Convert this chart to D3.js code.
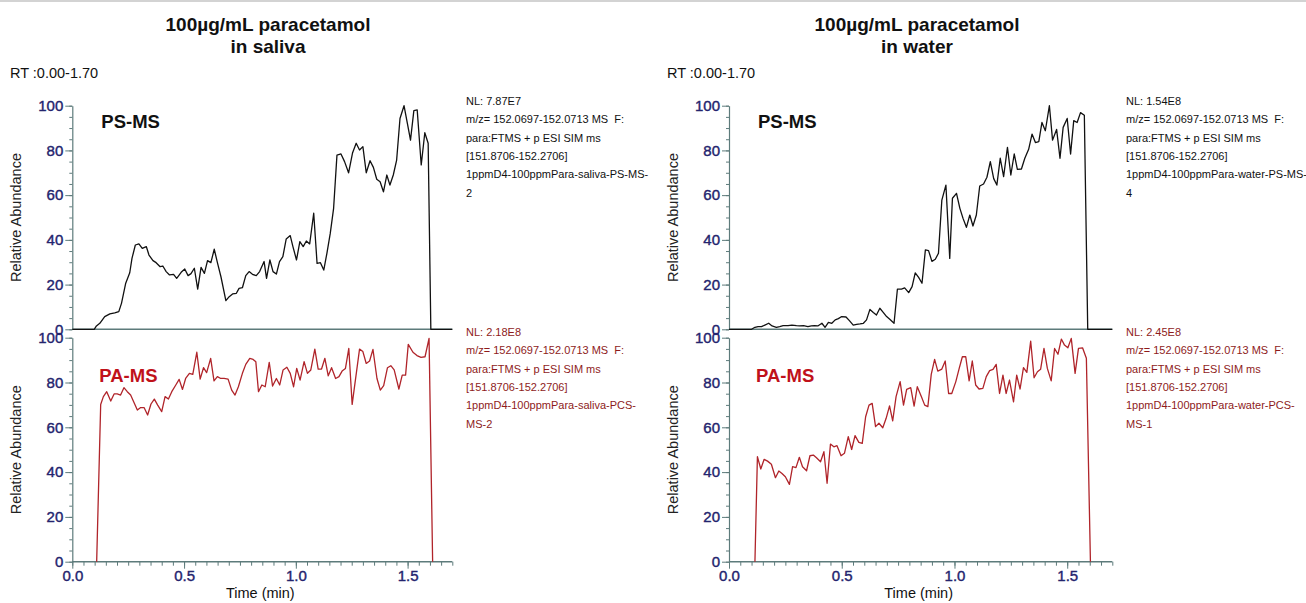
<!DOCTYPE html>
<html><head><meta charset="utf-8">
<script src="https://cdn.jsdelivr.net/npm/d3@7"></script>
<style>
html,body{margin:0;padding:0;background:#fff;}
svg{display:block;font-family:"Liberation Sans",Arial,sans-serif;}
</style></head>
<body>
<svg id="c" width="1306" height="603"></svg>
<script>
// ---------- DATA ----------
const titles = [["100µg/mL paracetamol", "in saliva"], ["100µg/mL paracetamol", "in water"]];
const rtLabel = "RT :0.00-1.70";
const xDomain = [0, 1.70];
const xMajorTicks = [0, 0.5, 1.0, 1.5];
const yMajorTicks = [0, 20, 40, 60, 80, 100];
const methodLabels = ["PS-MS", "PA-MS"];

// [time (min), relative abundance]
const salivaPS = [[0,0],[0.098,0],[0.108,1.5],[0.123,2.7],[0.145,5.7],[0.168,6.9],[0.190,7.3],[0.208,7.9],[0.220,11.6],[0.239,20.6],[0.257,25.3],[0.267,31.7],[0.282,37.7],[0.298,38.2],[0.313,36.2],[0.331,37],[0.343,33.2],[0.361,30.7],[0.375,29.8],[0.393,28],[0.405,28.3],[0.420,25.8],[0.435,24.3],[0.453,24.6],[0.467,22.8],[0.487,25.5],[0.503,27],[0.518,24],[0.531,24.9],[0.546,27.3],[0.561,18],[0.576,27.7],[0.591,25],[0.605,30.7],[0.620,29.8],[0.635,35.8],[0.650,29.5],[0.665,23.5],[0.687,12.8],[0.702,14.6],[0.717,15.8],[0.734,16.1],[0.746,18.3],[0.761,18.6],[0.776,24],[0.791,25.8],[0.806,24.6],[0.823,24],[0.838,25.8],[0.858,30.3],[0.869,22.8],[0.884,31],[0.898,25.8],[0.913,24.7],[0.927,30.3],[0.942,32.5],[0.957,40.4],[0.975,41.9],[0.987,37],[1.003,31],[1.018,39.2],[1.033,37],[1.047,39.5],[1.062,38.2],[1.080,51.9],[1.095,29.5],[1.110,29.8],[1.125,26.5],[1.139,34],[1.154,42.9],[1.169,54.1],[1.184,77.9],[1.202,78.4],[1.218,75],[1.236,70],[1.254,79],[1.270,83.2],[1.285,80.2],[1.300,81.7],[1.315,70],[1.332,75.4],[1.347,72.4],[1.362,67.1],[1.377,66],[1.392,61.5],[1.407,69],[1.421,64.5],[1.436,69],[1.451,75.7],[1.466,94.3],[1.484,100],[1.499,92.1],[1.513,84.6],[1.528,97.8],[1.543,98.1],[1.561,73.5],[1.577,87.9],[1.592,83.2],[1.604,0],[1.70,0]];

const salivaPA = [[0.109,0],[0.127,70.2],[0.139,73.7],[0.154,75.9],[0.172,71.7],[0.187,74.9],[0.201,74.9],[0.216,74.4],[0.231,77.7],[0.246,75.9],[0.261,74.4],[0.276,71.1],[0.291,67.7],[0.306,68.8],[0.321,68.8],[0.337,65.5],[0.352,70.4],[0.367,72.6],[0.382,69.9],[0.400,67],[0.415,73.7],[0.430,72.6],[0.445,75.9],[0.463,78.9],[0.478,81.4],[0.493,76.9],[0.507,81.8],[0.524,84.1],[0.539,83.6],[0.557,93.5],[0.572,81.5],[0.587,86.6],[0.601,84.4],[0.619,90.8],[0.634,80.7],[0.649,82.6],[0.664,81.8],[0.679,81.8],[0.697,81.5],[0.713,76.6],[0.728,74.4],[0.743,78.1],[0.761,84.1],[0.776,88.1],[0.794,90.8],[0.809,90.3],[0.821,89.3],[0.833,75.9],[0.848,78.9],[0.863,78.1],[0.881,89],[0.896,78.4],[0.913,81.8],[0.928,78.9],[0.943,85.6],[0.960,86.8],[0.975,84.1],[0.990,78.1],[1.004,86.3],[1.019,81.1],[1.037,89.3],[1.052,84.1],[1.067,85.6],[1.085,94.9],[1.100,86],[1.115,86],[1.130,90.8],[1.145,83],[1.160,86.6],[1.178,81.8],[1.193,82.6],[1.207,85.1],[1.222,86.3],[1.237,95.2],[1.252,70.2],[1.285,94.9],[1.300,93.8],[1.315,88.5],[1.330,89.6],[1.345,94.8],[1.363,81.8],[1.378,76.6],[1.393,78.6],[1.410,86.6],[1.425,87.5],[1.440,85.6],[1.461,77.1],[1.476,83.3],[1.491,83.3],[1.503,97],[1.524,93.5],[1.542,92],[1.560,91.2],[1.578,91.5],[1.596,99.7],[1.612,0]];

const waterPS = [[0,0],[0.100,0],[0.115,0.9],[0.129,1.2],[0.144,1.2],[0.159,1.9],[0.176,2.7],[0.191,1.5],[0.210,0.9],[0.225,1.2],[0.240,1.6],[0.262,1.6],[0.279,1.9],[0.299,1.6],[0.313,1.5],[0.331,1.6],[0.350,1.2],[0.365,1.5],[0.379,1.6],[0.394,1.5],[0.412,2.7],[0.426,0.9],[0.441,3.1],[0.456,2.7],[0.471,4.2],[0.485,4.8],[0.500,5.7],[0.519,5.5],[0.534,3.9],[0.551,1.9],[0.566,2.2],[0.581,2.4],[0.596,2.7],[0.610,4.2],[0.625,8.9],[0.640,7.5],[0.654,6.4],[0.669,9.4],[0.684,7.6],[0.699,5.7],[0.713,4.5],[0.732,2.7],[0.747,18],[0.765,18],[0.779,18.5],[0.797,16.4],[0.812,19.1],[0.826,25.2],[0.841,23.2],[0.856,20.6],[0.871,35.5],[0.885,35.2],[0.900,30.4],[0.915,31.3],[0.929,34],[0.944,57.8],[0.962,64.5],[0.979,31.7],[0.991,58.6],[1.009,60.8],[1.024,54.1],[1.038,49.6],[1.053,45.6],[1.068,51.1],[1.082,46.2],[1.097,51.1],[1.112,64.1],[1.129,65],[1.144,68],[1.159,75],[1.174,67.4],[1.188,64.5],[1.203,76.5],[1.218,68.3],[1.235,81.4],[1.250,69],[1.265,78.4],[1.279,71.5],[1.297,71.7],[1.312,76.5],[1.329,80.5],[1.344,87.3],[1.359,83.5],[1.374,83.9],[1.388,92.5],[1.403,88.8],[1.421,100],[1.435,84.6],[1.453,89.4],[1.468,76.5],[1.482,90.3],[1.500,94.3],[1.515,78.4],[1.529,93.3],[1.544,92.5],[1.559,96.9],[1.576,95.7],[1.591,0],[1.70,0]];

const waterPA = [[0.115,0],[0.126,46.9],[0.141,41.4],[0.156,45.7],[0.171,44.9],[0.188,43.5],[0.206,37.5],[0.221,40.5],[0.235,39.4],[0.250,37.9],[0.268,34.5],[0.282,42.4],[0.297,42],[0.312,46.6],[0.326,42.4],[0.344,40.6],[0.359,47.3],[0.374,47.6],[0.388,46.4],[0.406,44.6],[0.421,49.1],[0.435,35],[0.450,52.5],[0.465,51.3],[0.479,51.8],[0.497,47.3],[0.512,48.4],[0.529,55.8],[0.544,50.1],[0.559,56.3],[0.576,53.3],[0.591,52.8],[0.606,64.7],[0.621,69.9],[0.635,70.7],[0.650,60.3],[0.665,61.8],[0.682,59.8],[0.697,64],[0.712,69.6],[0.726,62.9],[0.741,73.7],[0.759,80.4],[0.774,69.9],[0.788,76.9],[0.806,77.7],[0.821,69.5],[0.835,78.1],[0.853,73.7],[0.868,69.9],[0.882,69.2],[0.897,83.6],[0.912,90.3],[0.926,85.1],[0.944,86],[0.959,89.6],[0.974,75.1],[0.988,75.1],[1.006,80.4],[1.021,86.3],[1.035,91.5],[1.050,91.5],[1.065,80.7],[1.079,89.6],[1.094,78.9],[1.109,77.1],[1.126,77.4],[1.141,82.6],[1.156,85.3],[1.171,85.9],[1.185,88.1],[1.200,75.1],[1.215,83.3],[1.229,75.1],[1.244,81.1],[1.262,71.4],[1.276,83.3],[1.291,77.1],[1.306,86.6],[1.321,84.5],[1.338,98.5],[1.353,82.1],[1.368,84.8],[1.382,85.9],[1.397,95.2],[1.412,86.3],[1.429,80.7],[1.444,95.2],[1.459,92.6],[1.474,99.4],[1.488,96.7],[1.503,95.5],[1.518,99.7],[1.535,84.1],[1.550,95.2],[1.568,95.5],[1.585,90.8],[1.603,0]];

const notesSalivaPS = ["NL: 7.87E7","m/z= 152.0697-152.0713 MS  F:","para:FTMS + p ESI SIM ms","[151.8706-152.2706]","1ppmD4-100ppmPara-saliva-PS-MS-","2"];
const notesSalivaPA = ["NL: 2.18E8","m/z= 152.0697-152.0713 MS  F:","para:FTMS + p ESI SIM ms","[151.8706-152.2706]","1ppmD4-100ppmPara-saliva-PCS-","MS-2"];
const notesWaterPS = ["NL: 1.54E8","m/z= 152.0697-152.0713 MS  F:","para:FTMS + p ESI SIM ms","[151.8706-152.2706]","1ppmD4-100ppmPara-water-PS-MS-","4"];
const notesWaterPA = ["NL: 2.45E8","m/z= 152.0697-152.0713 MS  F:","para:FTMS + p ESI SIM ms","[151.8706-152.2706]","1ppmD4-100ppmPara-water-PCS-","MS-1"];

// ---------- DRAW ----------
const svg = d3.select("#c");
const AXIS = "#5d7b7b", TICKTXT = "#24246e", BLACK = "#111", RED = "#b0242a", LBLRED = "#c0111a", NOTERED = "#8e1b1b";
const FONT = "'Liberation Sans',Arial,sans-serif";

svg.append("line").attr("x1",0).attr("x2",1306).attr("y1",1).attr("y2",1).attr("stroke","#c4c4c4").attr("stroke-width",1.5);

const columns = [
  {x0:72.3, x1:452.3, titleX:268, rtX:10, noteX:466, ps:salivaPS, pa:salivaPA, nps:notesSalivaPS, npa:notesSalivaPA, t:titles[0]},
  {x0:729, x1:1112.3, titleX:917, rtX:667, noteX:1126, ps:waterPS, pa:waterPA, nps:notesWaterPS, npa:notesWaterPA, t:titles[1]}
];
const panelsY = [{top:105.7, bot:329.3}, {top:337.7, bot:561.7}];

columns.forEach(col => {
  const g = svg.append("g");
  const x = d3.scaleLinear().domain(xDomain).range([col.x0, col.x1]);

  // titles
  g.append("text").attr("x",col.titleX).attr("y",31).attr("text-anchor","middle")
    .attr("font-size",19).attr("font-weight","bold").attr("fill","#111").text(col.t[0]);
  g.append("text").attr("x",col.titleX).attr("y",53).attr("text-anchor","middle")
    .attr("font-size",19).attr("font-weight","bold").attr("fill","#111").text(col.t[1]);
  g.append("text").attr("x",col.rtX).attr("y",78).attr("font-size",14.5).attr("fill","#111").text(rtLabel);

  panelsY.forEach((p, i) => {
    const y = d3.scaleLinear().domain([0,100]).range([p.bot, p.top]);
    const data = i === 0 ? col.ps : col.pa;
    const color = i === 0 ? BLACK : RED;

    // minor y ticks
    const yMin = g.append("g").attr("transform",`translate(${col.x0},0)`)
      .call(d3.axisLeft(y).tickValues(d3.range(0,101,5)).tickSize(3).tickFormat(""));
    yMin.select(".domain").remove();
    yMin.selectAll("line").attr("stroke",AXIS);
    // major y ticks
    const yMaj = g.append("g").attr("transform",`translate(${col.x0},0)`)
      .call(d3.axisLeft(y).tickValues(yMajorTicks).tickSize(7).tickSizeOuter(0).tickPadding(2));
    yMaj.select(".domain").attr("stroke",AXIS).attr("stroke-width",1.2);
    yMaj.selectAll("line").attr("stroke",AXIS);
    yMaj.selectAll("text").attr("font-size",15).attr("fill",TICKTXT).attr("font-family",FONT)
      .attr("stroke",TICKTXT).attr("stroke-width",0.4);

    // baseline
    g.append("line").attr("x1",col.x0).attr("x2",col.x1).attr("y1",y(0)).attr("y2",y(0))
      .attr("stroke",AXIS).attr("stroke-width",1.5);

    if (i === 1) {
      const xMin = g.append("g").attr("transform",`translate(0,${y(0)})`)
        .call(d3.axisBottom(x).tickValues(d3.range(0,1.71,0.05)).tickSize(4).tickFormat(""));
      xMin.select(".domain").remove();
      xMin.selectAll("line").attr("stroke",AXIS);
      const xMaj = g.append("g").attr("transform",`translate(0,${y(0)})`)
        .call(d3.axisBottom(x).tickValues(xMajorTicks).tickSize(7).tickPadding(2).tickFormat(d3.format(".1f")));
      xMaj.select(".domain").remove();
      xMaj.selectAll("line").attr("stroke",AXIS);
      xMaj.selectAll("text").attr("font-size",15).attr("fill",TICKTXT).attr("font-family",FONT)
        .attr("stroke",TICKTXT).attr("stroke-width",0.4);
      g.append("text").attr("x",(col.x0+col.x1)/2 - 2).attr("y",598).attr("text-anchor","middle")
        .attr("font-size",14.5).attr("fill","#111").text("Time (min)");
    }

    // y label
    const cy = (p.top + p.bot)/2;
    g.append("text").attr("transform",`translate(${col.x0-51},${cy}) rotate(-90)`)
      .attr("text-anchor","middle").attr("font-size",14.5).attr("fill","#222").text("Relative Abundance");

    // trace
    const line = d3.line().x(d => x(d[0])).y(d => y(d[1]));
    g.append("path").datum(data).attr("d",line).attr("fill","none")
      .attr("stroke",color).attr("stroke-width",1.3).attr("stroke-linejoin","round");

    // method label
    g.append("text").attr("x", col.x0 + (i===0 ? 29 : 27)).attr("y", i===0 ? 128 : 382)
      .attr("font-size",18.5).attr("font-weight","bold").attr("fill", i===0 ? "#111" : LBLRED)
      .text(methodLabels[i]);

    // notes
    const notes = i === 0 ? col.nps : col.npa;
    const nt = g.append("text").attr("font-size",11).attr("fill", i===0 ? "#111" : NOTERED)
      .style("white-space","pre");
    notes.forEach((s, k) => {
      nt.append("tspan").attr("x",col.noteX).attr("y",(i===0 ? 105 : 336) + k*18.3).text(s);
    });
  });
});
</script>
</body></html>
